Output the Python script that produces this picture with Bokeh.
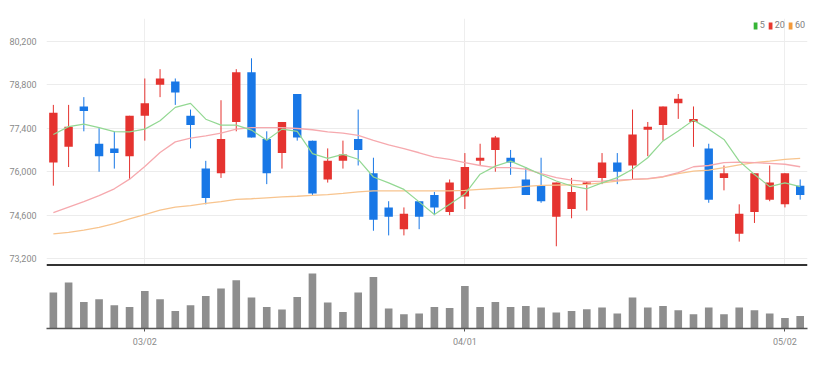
from bokeh.plotting import figure
from bokeh.models import (ColumnDataSource, FixedTicker, NumeralTickFormatter, Range1d,
                          Legend, LegendItem, Span)
from bokeh.layouts import column
from bokeh.embed import file_html
from bokeh.resources import INLINE

# ---- data ----
open_ = [76300, 76800, 78100, 76900, 76750, 76500, 77800, 78800, 78900, 77800,
         76100, 75950, 77600, 79200, 77050, 76600, 78500, 77000, 75750, 76350,
         77050, 75950, 74850, 74150, 75050, 75250, 74700, 75200, 76350, 76700,
         76450, 75750, 75550, 74550, 74800, 75600, 75800, 76300, 76200, 77350,
         77500, 78200, 77600, 76750, 75800, 74000, 74700, 75100, 74950, 75550]
high = [78150, 78150, 78400, 77400, 77300, 77800, 79000, 79300, 79000, 78000,
        76350, 78300, 79300, 79650, 77300, 77600, 78500, 77000, 76750, 77000,
        78000, 76450, 75050, 74850, 75050, 75350, 75750, 76600, 76900, 77150,
        76700, 76150, 76450, 75650, 75800, 75700, 76600, 76600, 78000, 77600,
        78100, 78500, 78100, 76900, 76200, 74950, 75950, 76200, 75950, 75750]
low = [75550, 76150, 77300, 76000, 76100, 75750, 77000, 78400, 78150, 76750,
       74950, 75800, 77300, 77100, 75600, 76100, 77000, 75250, 75650, 76100,
       76200, 74100, 73950, 73950, 74150, 74600, 74600, 74800, 76200, 76000,
       75900, 75250, 75000, 73600, 74500, 74750, 75600, 75600, 75750, 76500,
       77000, 77700, 76800, 75000, 75400, 73750, 74350, 75050, 74850, 75100]
close = [77900, 77450, 77950, 76500, 76600, 77800, 78200, 79000, 78550, 77500,
         75150, 77050, 79200, 77100, 75950, 77600, 77100, 75300, 76350, 76550,
         76700, 74450, 74550, 74650, 74550, 74850, 75650, 76150, 76450, 77100,
         76300, 75250, 75050, 75650, 75350, 75650, 76300, 76000, 77200, 77450,
         78100, 78350, 77700, 75100, 75950, 74650, 75950, 75650, 75950, 75250]
ma5 = [77200, 77450, 77530, 77420, 77290, 77280, 77370, 77640, 78070, 78200,
       77690, 77500, 77500, 77340, 77010, 77370, 77300, 76580, 76430, 76560,
       76400, 75830, 75640, 75430, 75030, 74620, 74950, 75280, 75920, 76180,
       76340, 76130, 75910, 75700, 75540, 75450, 75640, 75810, 76080, 76450,
       76990, 77310, 77660, 77370, 77040, 76340, 75910, 75520, 75640, 75520]
ma20 = [74680, 74860, 75040, 75230, 75450, 75760, 76170, 76620, 76960, 77080,
        77150, 77240, 77370, 77420, 77420, 77420, 77390, 77350, 77280, 77240,
        77170, 77010, 76860, 76740, 76610, 76470, 76400, 76290, 76200, 76130,
        76130, 76080, 75940, 75810, 75730, 75680, 75700, 75730, 75750, 75780,
        75840, 75970, 76160, 76200, 76290, 76310, 76290, 76270, 76240, 76160]
ma60 = [74000, 74050, 74120, 74210, 74330, 74480, 74620, 74760, 74860, 74910,
        74980, 75040, 75110, 75130, 75160, 75190, 75210, 75240, 75260, 75300,
        75350, 75380, 75380, 75380, 75380, 75380, 75380, 75400, 75430, 75460,
        75490, 75530, 75560, 75570, 75580, 75590, 75640, 75700, 75750, 75770,
        75830, 75940, 76020, 76050, 76130, 76220, 76290, 76340, 76400, 76430]
volume = [18000, 23000, 13300, 14650, 11650, 10800, 18800, 14650, 8800, 11650,
          16300, 20000, 24150, 15500, 10800, 9500, 15800, 27500, 13000, 8300,
          18000, 25800, 10000, 7150, 7500, 10800, 10300, 21300, 10800, 13300,
          10800, 11300, 10500, 8000, 8800, 9650, 10500, 7500, 15500, 10500,
          11300, 9150, 7150, 10500, 7150, 10500, 9150, 7500, 5300, 6300]
y_ticks = [73200, 74600, 76000, 77400, 78800, 80200]
tick_positions = [6, 27, 48]
tick_labels = ["03/02", "04/01", "05/02"]
legend_labels = ["5", "20", "60"]

RED = "#e5332f"
BLUE = "#1877e6"
FONT = "Roboto"

n = len(close)
idx = list(range(n))
colors = [RED if c >= o else BLUE for o, c in zip(open_, close)]
src = ColumnDataSource(dict(
    x=idx, high=high, low=low,
    top=[max(o, c) for o, c in zip(open_, close)],
    bottom=[min(o, c) for o, c in zip(open_, close)],
    color=colors, vol=volume))

x_range = Range1d(-0.45, 49.48)
Y0, Y1 = 72949, 80931

p = figure(width=818, height=266, x_range=x_range, y_range=Range1d(Y0, Y1),
           output_backend="svg", toolbar_location=None,
           min_border_left=46, min_border_right=11, min_border_top=18, min_border_bottom=0)
p.segment(x0="x", y0="low", x1="x", y1="high", source=src, line_color="color", line_width=1)
p.vbar(x="x", top="top", bottom="bottom", width=0.55, source=src,
       fill_color="color", line_color=None)
p.line(idx, ma60, line_color="#f8c48e", line_width=1.3)
p.line(idx, ma20, line_color="#f6a9ae", line_width=1.3)
p.line(idx, ma5, line_color="#93d893", line_width=1.2)

# separator line at the bottom of the price panel
p.add_layout(Span(location=Y0 + 48, dimension="width", line_color="#333333", line_width=2))

# legend swatches (hidden renderers, shown only in the legend)
items = []
for lab, col in zip(legend_labels, ["#36b536", "#e8392f", "#f39a3a"]):
    r = p.vbar(x="x", top="top", bottom="bottom", width=0.5, source=src,
               fill_color=col, line_color=None, visible=False)
    items.append(LegendItem(label=lab, renderers=[r]))
lg = Legend(items=items, location="top_right", orientation="horizontal",
            margin=2, padding=0, spacing=3, glyph_width=5, glyph_height=9,
            label_standoff=2, label_width=4, label_height=10,
            label_text_font=FONT, label_text_font_size="9px", label_text_color="#808080",
            background_fill_alpha=0, border_line_color=None, click_policy="none")
p.add_layout(lg)

p.yaxis.ticker = FixedTicker(ticks=y_ticks)
p.yaxis.formatter = NumeralTickFormatter(format="0,0")
p.yaxis.axis_line_color = None
p.yaxis.major_tick_line_color = None
p.yaxis.minor_tick_line_color = None
p.yaxis.major_label_standoff = 4
p.yaxis.major_label_text_color = "#8a8a8a"
p.yaxis.major_label_text_font = FONT
p.yaxis.major_label_text_font_size = "9px"
p.ygrid.grid_line_color = "#ececec"

p.xaxis.visible = False
p.xgrid.ticker = FixedTicker(ticks=tick_positions)
p.xgrid.grid_line_color = "#eeeeee"
p.outline_line_color = None

v = figure(width=818, height=87, x_range=x_range, y_range=Range1d(0, 30000),
           output_backend="svg", toolbar_location=None,
           min_border_left=46, min_border_right=11, min_border_top=2, min_border_bottom=25)
v.vbar(x="x", top="vol", width=0.5, source=src, fill_color="#8e8e8e", line_color=None)
v.yaxis.visible = False
v.grid.visible = False
v.outline_line_color = None
v.xaxis.ticker = FixedTicker(ticks=tick_positions)
v.xaxis.major_label_overrides = {k: s for k, s in zip(tick_positions, tick_labels)}
v.xaxis.axis_line_color = "#555555"
v.xaxis.axis_line_width = 1.5
v.xaxis.major_tick_line_color = "#555555"
v.xaxis.major_tick_out = 3
v.xaxis.major_tick_in = 0
v.xaxis.minor_tick_line_color = None
v.xaxis.major_label_standoff = 5
v.xaxis.major_label_text_color = "#8a8a8a"
v.xaxis.major_label_text_font = FONT
v.xaxis.major_label_text_font_size = "9px"

layout = column(p, v)
open("out.html", "w").write(file_html(layout, INLINE))
